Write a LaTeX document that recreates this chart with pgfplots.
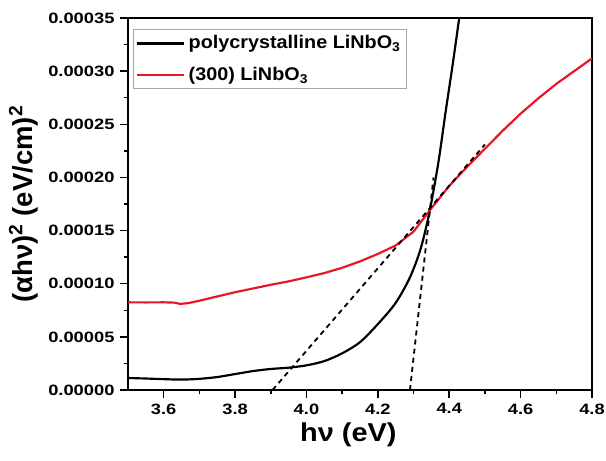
\documentclass[border=0pt]{standalone}
\usepackage{pgfplots}
\pgfplotsset{compat=1.18}
\usepackage{fontspec}
\setmainfont{Liberation Sans}
\newfontfamily\tickfont[FakeStretch=1.22]{Liberation Sans}
\newfontfamily\labfont[FakeStretch=1.12]{Liberation Sans}
\newfontfamily\legfont[FakeStretch=1.08]{Liberation Sans}
\definecolor{redline}{RGB}{232,20,40}
\begin{document}
\begin{tikzpicture}
\begin{axis}[
  scale only axis,
  width=278.4pt, height=223.2pt,
  xmin=3.5, xmax=4.8, ymin=0, ymax=0.00035,
  xtick={3.6,3.8,4.0,4.2,4.4,4.6,4.8},
  ytick={0,0.00005,0.0001,0.00015,0.0002,0.00025,0.0003,0.00035},
  minor x tick num=1, minor y tick num=1,
  scaled y ticks=false,
  tick align=outside,
  xtick pos=bottom, ytick pos=left,
  major tick length=4.6pt, minor tick length=2.6pt,
  every tick/.style={line width=0.9pt, black},
  axis line style={line width=1pt},
  /pgf/number format/assume math mode=true,
  x tick label style={font=\tickfont\fontsize{9}{10}\selectfont\bfseries, /pgf/number format/.cd, fixed, fixed zerofill, precision=1},
  y tick label style={font=\tickfont\fontsize{9}{10}\selectfont\bfseries, /pgf/number format/.cd, fixed, fixed zerofill, precision=5},
  xlabel={\bfseries hν (eV)},
  ylabel={\bfseries (αhν)\textsuperscript{2} (eV/cm)\textsuperscript{2}},
  xlabel style={font=\labfont\fontsize{15.5}{18}\selectfont, yshift=2pt, xshift=-7pt},
  ylabel style={font=\fontsize{16.5}{18}\selectfont, yshift=-1pt},
  legend style={at={(0.011,0.970)}, anchor=north west, draw=gray!70, line width=0.5pt,
    font=\legfont\fontsize{11}{13}\selectfont\bfseries, inner sep=1.5pt, row sep=5.5pt},
  legend cell align=left,
  legend image code/.code={\draw[#1, line width=1.6pt] (0pt,0pt) -- (28pt,0pt);},
  clip=true,
]
\coordinate (sw) at (rel axis cs:0,0);
\coordinate (ne) at (rel axis cs:1,1);
\addplot[black, line width=1.3pt, smooth, tension=0.5] coordinates {
 (3.50,0.0000113) (3.55,0.0000108) (3.60,0.0000102) (3.65,0.0000098) (3.70,0.0000105)
 (3.75,0.0000122) (3.80,0.0000150) (3.85,0.0000178) (3.90,0.0000198) (3.95,0.0000210)
 (4.00,0.0000232) (4.05,0.0000272) (4.10,0.0000345) (4.15,0.0000450) (4.20,0.0000620)
 (4.25,0.0000820) (4.29,0.0001060) (4.32,0.0001330) (4.345,0.0001680) (4.37,0.0002150)
 (4.39,0.0002620) (4.41,0.0003070) (4.43,0.0003550)
};
\addlegendentry{polycrystalline LiNbO\textsubscript{3}}
\addplot[redline, line width=1.3pt] coordinates {
 (3.50,0.0000825) (3.55,0.0000824) (3.60,0.0000825) (3.63,0.0000822) (3.646,0.0000810)
 (3.67,0.0000818) (3.70,0.0000840) (3.75,0.0000880) (3.80,0.0000920) (3.85,0.0000955)
 (3.90,0.0000990) (3.95,0.0001022) (4.00,0.0001060) (4.05,0.0001100) (4.10,0.0001150)
 (4.15,0.0001210) (4.20,0.0001280) (4.25,0.0001360) (4.30,0.0001490) (4.35,0.0001710)
 (4.40,0.0001920) (4.45,0.0002100) (4.50,0.0002270) (4.55,0.0002440) (4.60,0.0002600)
 (4.65,0.0002745) (4.70,0.0002880) (4.75,0.0003000) (4.80,0.0003120)
};
\addlegendentry{(300) LiNbO\textsubscript{3}}
\addplot[black, line width=1.1pt, dash pattern=on 3pt off 2.5pt, forget plot] coordinates {
 (3.905,0) (4.50,0.000231)
};
\addplot[black, line width=1.1pt, dash pattern=on 3pt off 2.5pt, forget plot] coordinates {
 (4.290,0) (4.356,0.000200)
};
\end{axis}
\pgfresetboundingbox
\path ([xshift=-76.8pt,yshift=-42pt]sw) rectangle ([xshift=8.4pt,yshift=10.8pt]ne);
\end{tikzpicture}
\end{document}
